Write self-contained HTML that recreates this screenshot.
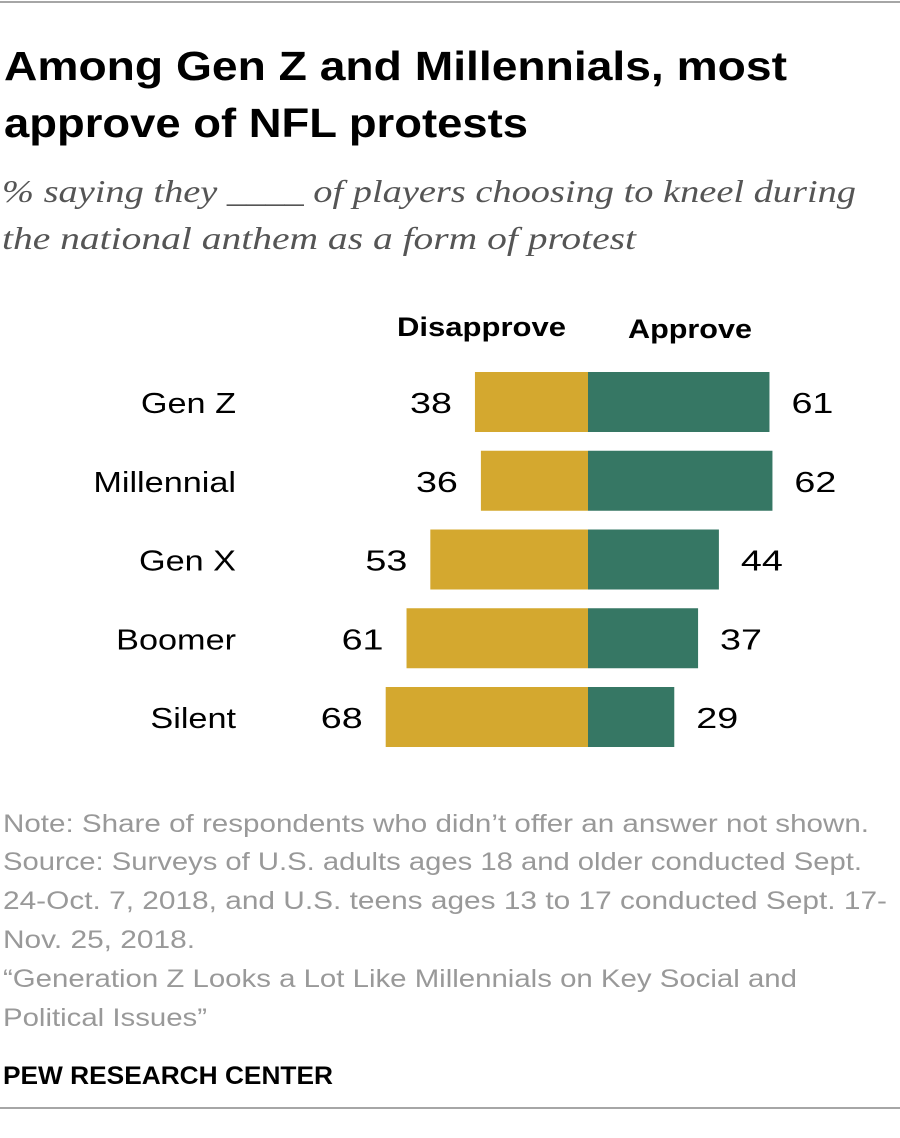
<!DOCTYPE html>
<html><head><meta charset="utf-8"><style>
body{margin:0;background:#fff;}
svg{display:block;}
</style></head><body>
<svg width="900" height="1138" xmlns="http://www.w3.org/2000/svg">
<line x1="0" y1="2" x2="900" y2="2" stroke="#888" stroke-width="1.5"/>
<text x="4" y="80" textLength="783" lengthAdjust="spacingAndGlyphs" font-family="Liberation Sans, sans-serif" font-weight="bold" font-size="41" fill="#000">Among Gen Z and Millennials, most</text>
<text x="4" y="137" textLength="524" lengthAdjust="spacingAndGlyphs" font-family="Liberation Sans, sans-serif" font-weight="bold" font-size="41" fill="#000">approve of NFL protests</text>
<text x="2" y="202" textLength="854" lengthAdjust="spacingAndGlyphs" font-family="Liberation Serif, serif" font-style="italic" font-size="32" fill="#555">% saying they ____ of players choosing to kneel during</text>
<text x="2" y="249" textLength="634" lengthAdjust="spacingAndGlyphs" font-family="Liberation Serif, serif" font-style="italic" font-size="32" fill="#555">the national anthem as a form of protest</text>
<text x="397" y="336" textLength="169" lengthAdjust="spacingAndGlyphs" font-family="Liberation Sans, sans-serif" font-weight="bold" font-size="27">Disapprove</text>
<text x="628" y="338" textLength="124" lengthAdjust="spacingAndGlyphs" font-family="Liberation Sans, sans-serif" font-weight="bold" font-size="27">Approve</text>
<g id="bars"></g>
<g font-family="Liberation Sans, sans-serif" font-size="25" fill="#999">
<text x="3" y="832" textLength="866" lengthAdjust="spacingAndGlyphs">Note: Share of respondents who didn’t offer an answer not shown.</text>
<text x="3" y="870" textLength="859" lengthAdjust="spacingAndGlyphs">Source: Surveys of U.S. adults ages 18 and older conducted Sept.</text>
<text x="3" y="909" textLength="884" lengthAdjust="spacingAndGlyphs">24-Oct. 7, 2018, and U.S. teens ages 13 to 17 conducted Sept. 17-</text>
<text x="3" y="948" textLength="192" lengthAdjust="spacingAndGlyphs">Nov. 25, 2018.</text>
<text x="3" y="987" textLength="794" lengthAdjust="spacingAndGlyphs">“Generation Z Looks a Lot Like Millennials on Key Social and</text>
<text x="3" y="1026" textLength="204" lengthAdjust="spacingAndGlyphs">Political Issues”</text>
</g>
<text x="3" y="1084" textLength="330" lengthAdjust="spacingAndGlyphs" font-family="Liberation Sans, sans-serif" font-weight="bold" font-size="25" fill="#000">PEW RESEARCH CENTER</text>
<line x1="0" y1="1108" x2="900" y2="1108" stroke="#888" stroke-width="1.5"/>
</svg>
<script>
const categories = ["Gen Z","Millennial","Gen X","Boomer","Silent"];
const disapprove = [38,36,53,61,68];
const approve = [61,62,44,37,29];
const NS="http://www.w3.org/2000/svg";
const x0=588, k=2.975, rowTop=372, pitch=78.75, bh=60;
const xs=v=>v*k;
const g=document.getElementById('bars');
function mk(tag,attrs){const e=document.createElementNS(NS,tag);for(const a in attrs)e.setAttribute(a,attrs[a]);g.appendChild(e);return e;}
function stretch(t,r){const w=t.getComputedTextLength();t.setAttribute('textLength',w*r);t.setAttribute('lengthAdjust','spacingAndGlyphs');}
categories.forEach((c,i)=>{
  const y=rowTop+i*pitch, cy=y+bh/2+11;
  const lab=mk('text',{x:236,y:cy,'text-anchor':'end','font-family':'Liberation Sans, sans-serif','font-size':29,fill:'#000'});
  lab.textContent=c;
  
  
  stretch(lab,1.18);
  const d=mk('rect',{x:x0-xs(disapprove[i]),y:y,width:xs(disapprove[i]),height:bh,fill:'#D4A82F'});
  
  
  const a=mk('rect',{x:x0,y:y,width:xs(approve[i]),height:bh,fill:'#367764'});
  
  
  const dv=mk('text',{x:x0-xs(disapprove[i])-23,y:cy,'text-anchor':'end','font-family':'Liberation Sans, sans-serif','font-size':29,fill:'#000'});
  dv.textContent=disapprove[i];
  
  
  stretch(dv,1.3);
  const av=mk('text',{x:x0+xs(approve[i])+22,y:cy,'font-family':'Liberation Sans, sans-serif','font-size':29,fill:'#000'});
  av.textContent=approve[i];
  
  
  stretch(av,1.3);
});
</script>
</body></html>
